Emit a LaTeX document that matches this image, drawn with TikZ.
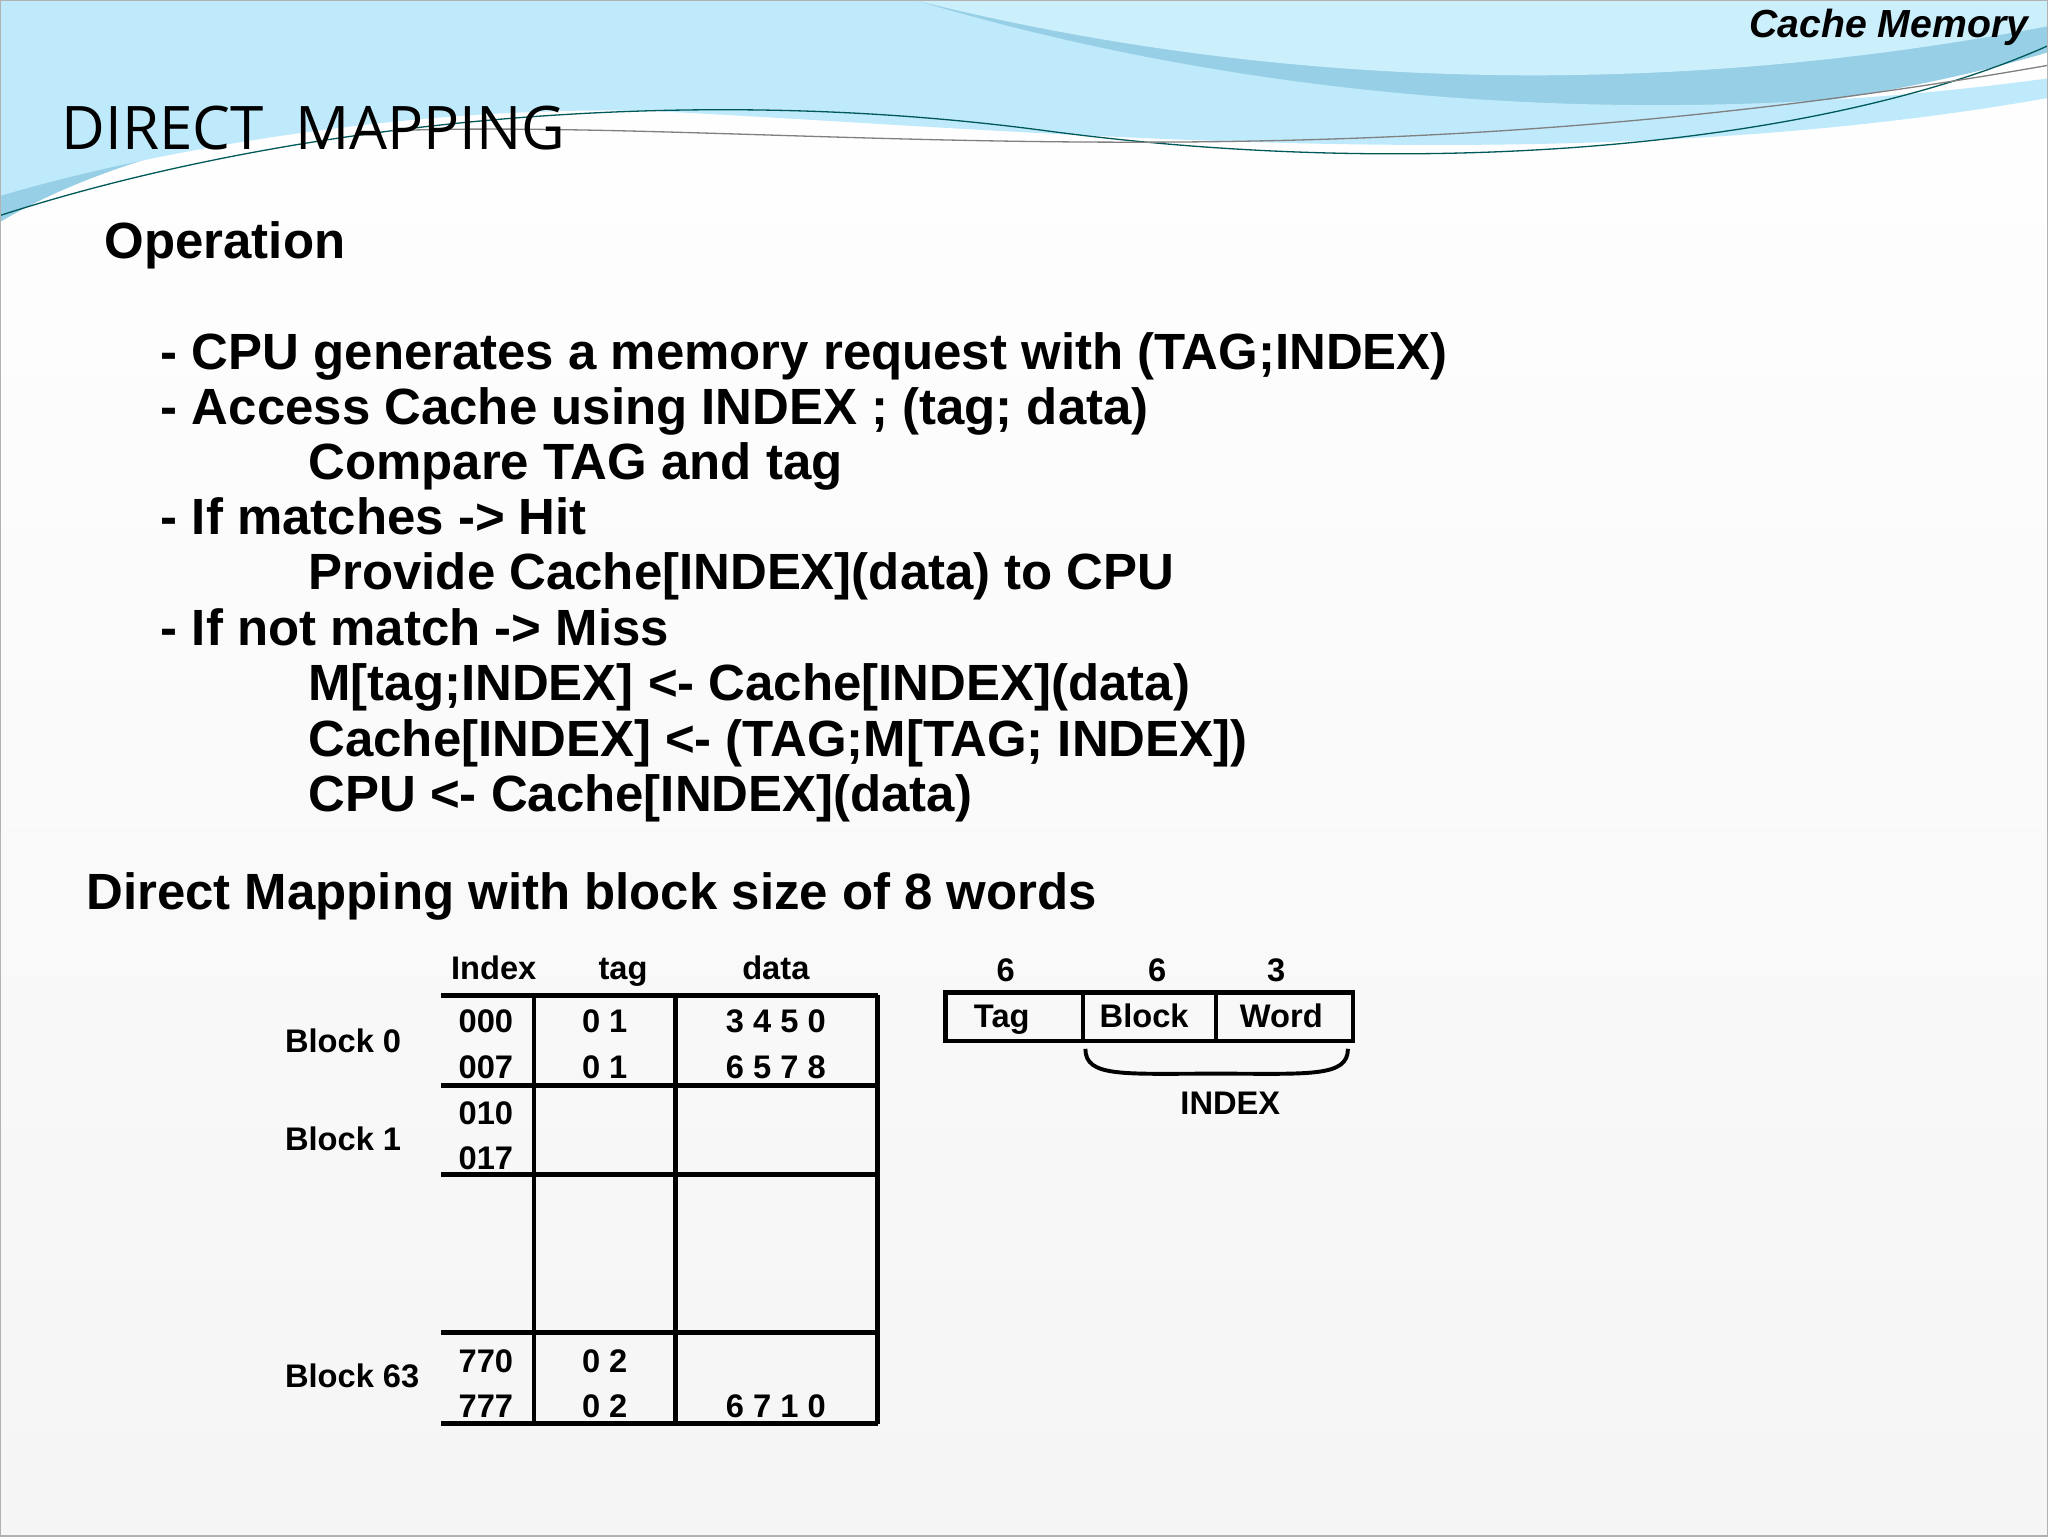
\documentclass[tikz,border=0pt]{standalone}
\usepackage{fontspec}
\setmainfont{Liberation Sans}
\newfontfamily\titlefont{Open Sans}
\begin{document}
\begin{tikzpicture}[x=1pt,y=-1pt,
  grid/.style={line width=3.5pt},
  body/.style={anchor=base west,font=\fontsize{39}{42}\selectfont\bfseries,inner sep=0},
  small/.style={font=\fontsize{25}{28}\selectfont\bfseries,inner sep=0}]
\useasboundingbox (0,0) rectangle (1568,1176);
\fill[top color=white,bottom color=gray!8] (0,0) rectangle (1568,1176);
\fill[cyan!60!teal!45] (0,0) -- (1568,0) -- (1568,40) .. controls (1300,120) and (900,110) .. (600,80) .. controls (300,60) and (100,110) .. (0,170) -- cycle;
\fill[cyan!25] (0,0) -- (700,0) .. controls (900,60) and (1200,110) .. (1568,60) -- (1568,75) .. controls (1200,140) and (800,100) .. (500,85) .. controls (300,80) and (100,120) .. (0,150) -- cycle;
\fill[white!80!cyan] (700,0) .. controls (900,50) and (1200,90) .. (1568,20) -- (1568,0) -- cycle;
\draw[teal!70!black,line width=1pt] (0,165) .. controls (200,100) and (500,60) .. (800,100) .. controls (1100,140) and (1400,110) .. (1568,35);
\draw[gray,line width=1pt] (300,100) .. controls (600,90) and (1000,150) .. (1568,50);
\draw[gray!60,line width=1pt] (0,0) rectangle (1568,1176);
\node[anchor=north east,font=\fontsize{30}{32}\selectfont\bfseries\itshape,inner sep=0] (cm) at (1553,7) {Cache Memory};
\node[anchor=west,font=\titlefont\fontsize{46}{50}\selectfont,inner sep=0] (title) at (47,98) {DIRECT\ \ MAPPING};
\node[body] (op) at (80,198) {Operation};
\node[body] (l1) at (123,283) {- CPU generates a memory request with (TAG;INDEX)};
\node[body] (l2) at (123,325) {- Access Cache using INDEX ; (tag; data)};
\node[body] (l3) at (236,367) {Compare TAG and tag};
\node[body] (l4) at (123,409) {- If matches -> Hit};
\node[body] (l5) at (236,451) {Provide Cache[INDEX](data) to CPU};
\node[body] (l6) at (123,494) {- If not match -> Miss};
\node[body] (l7) at (236,536) {M[tag;INDEX] <- Cache[INDEX](data)};
\node[body] (l8) at (236,579) {Cache[INDEX] <- (TAG;M[TAG; INDEX])};
\node[body] (l9) at (236,621) {CPU <- Cache[INDEX](data)};
\node[body] (dm) at (66,696) {Direct Mapping with block size of 8 words};
% table
\node[small,anchor=base] (hi) at (378,750) {Index};
\node[small,anchor=base] (ht) at (477,750) {tag};
\node[small,anchor=base] (hd) at (594,750) {data};
\foreach \y in {762,831,899,1020,1090} \draw[grid] (338,\y) -- (672,\y);
\foreach \x in {409,517,672} \draw[grid] (\x,762) -- (\x,1090);
\foreach \t/\y in {000/782,007/817,010/852,017/887,770/1042,777/1077} \node[small] at (372,\y) {\t};
\node[small] at (463,782) {0 1};
\node[small] at (463,817) {0 1};
\node[small] at (463,1042) {0 2};
\node[small] at (463,1077) {0 2};
\node[small] at (594,782) {3 4 5 0};
\node[small] at (594,817) {6 5 7 8};
\node[small] at (594,1077) {6 7 1 0};
\node[small,anchor=west] (b0) at (218,797) {Block 0};
\node[small,anchor=west] (b1) at (218,872) {Block 1};
\node[small,anchor=west] (b63) at (218,1053) {Block 63};
% address
\draw[grid] (724,760) rectangle (1036,797);
\draw[grid] (829,760) -- (829,797) (931,760) -- (931,797);
\node[small,anchor=base] (tg) at (767,787) {Tag};
\node[small,anchor=base] (bk) at (876,787) {Block};
\node[small,anchor=base] (wd) at (981,787) {Word};
\node[small] at (770,743) {6};
\node[small] at (886,743) {6};
\node[small] at (977,743) {3};
\draw[line width=3pt] (831,803) .. controls (831,825) and (860,822) .. (931,822) .. controls (1002,822) and (1032,825) .. (1032,803);
\node[small] (idx) at (942,845) {INDEX};
\end{tikzpicture}
\end{document}
